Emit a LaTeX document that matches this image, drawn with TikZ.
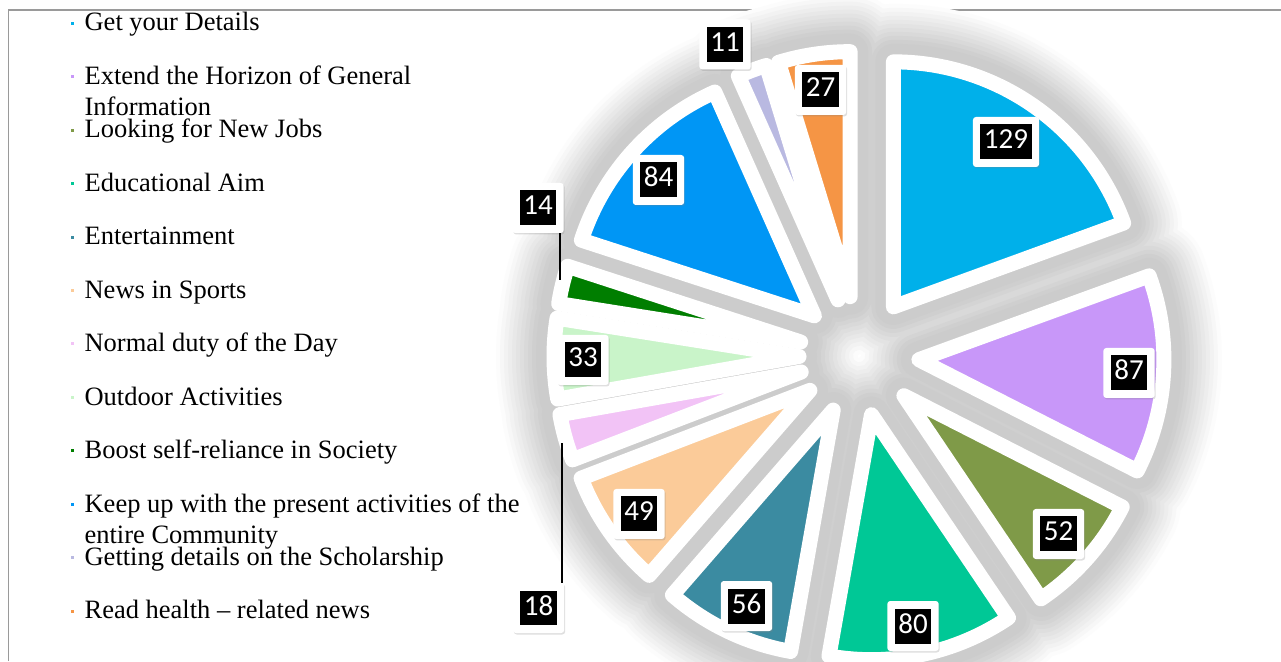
\documentclass[tikz,border=0pt]{standalone}
\usepackage{fontspec}
\setmainfont{Liberation Serif}
\newfontfamily\numfont{Carlito}
\usepackage{tikz}
\usetikzlibrary{positioning,shadows}

\definecolor{sCyan}{HTML}{00B0EA}
\definecolor{sPurple}{HTML}{C897F9}
\definecolor{sOlive}{HTML}{7F9A48}
\definecolor{sTealGreen}{HTML}{00C896}
\definecolor{sDarkTeal}{HTML}{3B8BA1}
\definecolor{sPeach}{HTML}{FBCB99}
\definecolor{sPink}{HTML}{F2C3F6}
\definecolor{sLightGreen}{HTML}{C9F4C9}
\definecolor{sGreen}{HTML}{007E00}
\definecolor{sBlue}{HTML}{0096F5}
\definecolor{sLavender}{HTML}{B9B9E1}
\definecolor{sOrange}{HTML}{F59545}
\definecolor{framegray}{HTML}{9A9A9A}

\tikzset{
  legtext/.style={font=\fontsize{26.5}{31}\selectfont, inner sep=0pt, anchor=base west},
  key/.style={inner sep=0pt, minimum size=3pt},
  valbox/.style={fill=white, rounded corners=3pt, inner sep=7.5pt,
    drop shadow={opacity=0.25, shadow xshift=1pt, shadow yshift=-1.5pt}},
  leader/.style={line width=1.5pt},
  wedge/.style={draw=white, line width=15pt, line join=round}
}
\newcommand{\val}[1]{{\fboxsep=3.5pt\colorbox{black}{\rule[-7pt]{0pt}{28pt}\textcolor{white}{\numfont\fontsize{29}{30}\selectfont #1}}}}

\begin{document}
\begin{tikzpicture}[x=1pt,y=1pt]
    \clip (0,0) rectangle (1281,661);
    \fill[white] (0,0) rectangle (1281,661);
    \draw[framegray, line width=1.5pt] (8.5,0) -- (8.5,651) -- (1281,651);

    \coordinate (C) at (859,305);

    % soft shadow round the slices
    \foreach \r/\p in {58/1,54/3,50/5,46/7,42/9,38/11,34/13,30/15,26/17,22/19,18/20}
      \foreach \a/\b in {90/20,20/-27,-27/-56,-56/-100,-100/-131,-131/-159,-159/-170,-170/-189,-189/-198,-198/-246,-246/-253,-253/-270}
        \draw[line join=round, line width=2*\r, black!\p]
          ([shift={({(\a+\b)/2}:60)}]C) -- ++(\a:245) arc[start angle=\a, end angle=\b, radius=245] -- cycle;

    % slices
    \foreach \a/\b/\col in {90/20/sCyan,20/-27/sPurple,-27/-56/sOlive,-56/-100/sTealGreen,
        -100/-131/sDarkTeal,-131/-159/sPeach,-159/-170/sPink,-170/-189/sLightGreen,
        -189/-198/sGreen,-198/-246/sBlue,-246/-253/sLavender,-253/-270/sOrange}
      \filldraw[wedge, fill=\col]
        ([shift={({(\a+\b)/2}:60)}]C) -- ++(\a:245) arc[start angle=\a, end angle=\b, radius=245] -- cycle;

    % value labels
    \node[valbox] (v129) at (1006,519) {\val{129}};
    \node[valbox] (v87) at (1129,288) {\val{87}};
    \node[valbox] (v52) at (1058.5,127) {\val{52}};
    \node[valbox] (v80) at (913,35) {\val{80}};
    \node[valbox] (v56) at (746.5,55) {\val{56}};
    \node[valbox] (v49) at (639,147) {\val{49}};
    \node[valbox] (v18) at (538.5,53) {\val{18}};
    \node[valbox] (v33) at (583,301) {\val{33}};
    \node[valbox] (v14) at (538,453) {\val{14}};
    \node[valbox] (v84) at (658.5,481) {\val{84}};
    \node[valbox] (v11) at (725,616.5) {\val{11}};
    \node[valbox] (v27) at (820.5,571) {\val{27}};

    \coordinate (t14) at (560,381);
    \coordinate (t18) at (562,218);
    \draw[leader] (t14 |- v14.south) -- (t14);
    \draw[leader] (t18 |- v18.north) -- (t18);

    % legend
    \foreach \t/\col [count=\i] in {Get your Details/sCyan,
        Extend the Horizon of General/sPurple,
        Looking for New Jobs/sOlive,
        Educational Aim/sTealGreen,
        Entertainment/sDarkTeal,
        News in Sports/sPeach,
        Normal duty of the Day/sPink,
        Outdoor Activities/sLightGreen,
        Boost self-reliance in Society/sGreen,
        Keep up with the present activities of the/sBlue,
        Getting details on the Scholarship/sLavender,
        Read health – related news/sOrange}
    {
      \node[legtext] (item\i) at (84.4,{630-53.45*(\i-1)}) {\t};
      \node[key, fill=\col] (key\i) at ([xshift=-12pt, yshift=7.7pt]item\i.base west) {};
    }
    \node[legtext] (item2b) at ([yshift=-31pt]item2.base west) {Information};
    \node[legtext] (item10b) at ([yshift=-31pt]item10.base west) {entire Community};
\end{tikzpicture}
\end{document}
